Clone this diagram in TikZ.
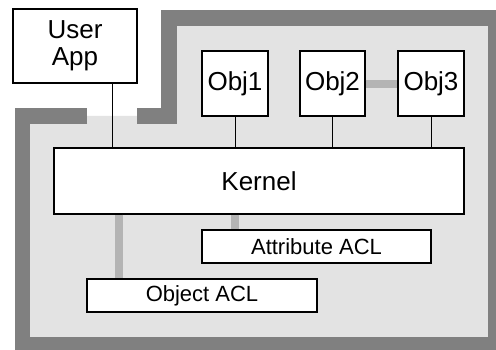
\documentclass[tikz,border=0pt]{standalone}
\usepackage{fontspec}
\setmainfont{Liberation Sans}
\usepackage{tikz}
\usetikzlibrary{calc,graphs}
\definecolor{wallgray}{HTML}{808080}
\definecolor{roomgray}{HTML}{E3E3E3}
\definecolor{linkgray}{HTML}{B4B4B4}
\tikzstyle{box}=[draw=black, fill=white, line width=1.2pt, inner sep=0pt]
\tikzstyle{bigbox}=[box, font=\fontsize{26}{26.6}\selectfont]
\tikzstyle{aclbox}=[box, font=\fontsize{22}{24}\selectfont]
\tikzstyle{link}=[line width=1pt]
\tikzstyle{graylink}=[draw=linkgray, line width=8pt]
\tikzset{
    box size/.style args={#1 and #2}{
         minimum width=#1pt, minimum height=#2pt
    }
}

\begin{document}
\begin{tikzpicture}[x=1pt, y=-1pt, new set=import nodes]
 \useasboundingbox (0,0) rectangle (496,349);
 \clip (0,0) rectangle (496,349);

 % room and wall
 \fill[roomgray] (22.5,115.8) -- (169,115.8) -- (169,18) -- (496,18) -- (496,349) -- (22.5,349) -- cycle;
 \draw[wallgray, line width=15.5pt] (87,115.8) -- (22.5,115.8) -- (22.5,344.8) -- (495.8,344.8) -- (495.8,18) -- (169,18) -- (169,115.8) -- (137,115.8);

 \begin{scope}[nodes={set=import nodes}]
      \node (uapp)[bigbox, box size=124 and 74, align=center] at (75,46) {User\\App};
      \node (obj1)[bigbox, box size=66 and 65] at (235,83.5) {Obj1};
      \node (obj2)[bigbox, box size=65 and 65] at (332.5,83.5) {Obj2};
      \node (obj3)[bigbox, box size=66 and 65] at (431,83.5) {Obj3};
      \node (kernel)[bigbox, box size=410 and 66] at (259,181) {Kernel};
      \node (attracl)[aclbox, box size=229 and 33] at (316.5,246.5) {Attribute ACL};
      \node (objacl)[aclbox, box size=230 and 33] at (202,295.5) {Object ACL};
      %\node (objacl)[aclbox, right=of attracl] {};
 \end{scope}

 \coordinate (ua out) at ($(uapp.south west)!0.8!(uapp.south east)$);
 \coordinate (oacl in) at ($(objacl.north west)!0.143!(objacl.north east)$);

 \graph {
    (import nodes);
    obj2 --[graylink] obj3
    };

 % kernel links
 \draw[link] (ua out) -- (ua out |- kernel.north);
 \draw[link] (obj1.south) -- (obj1.south |- kernel.north);
 \draw[link] (obj2.south) -- (obj2.south |- kernel.north);
 \draw[link] (obj3.south) -- (obj3.south |- kernel.north);
 \draw[graylink] (obj1 |- kernel.south) -- (obj1 |- attracl.north);
 \draw[graylink] (oacl in |- kernel.south) -- (oacl in);
\end{tikzpicture}
\end{document}
